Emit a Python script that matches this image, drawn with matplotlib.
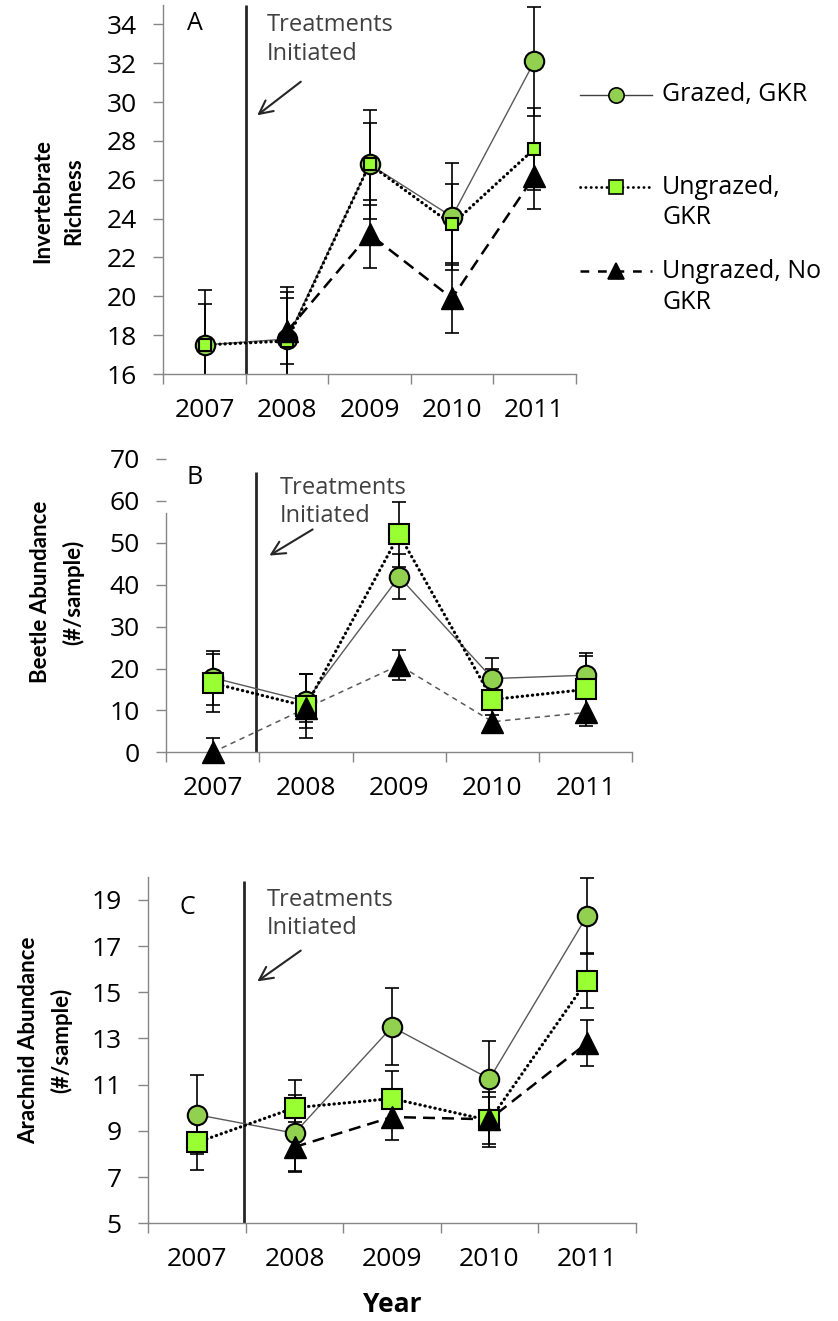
import numpy as np
import matplotlib.pyplot as plt
from matplotlib import font_manager

years = ['2007', '2008', '2009', '2010', '2011']

# A - invertebrate richness
rich_grazed = [17.5, 17.8, 26.8, 24.1, 32.1]
rich_grazed_se = [2.8, 2.7, 2.8, 2.75, 2.8]
rich_ungr_gkr = [17.5, 17.7, 26.8, 23.7, 27.6]
rich_ungr_gkr_se = [2.1, 2.5, 2.1, 2.1, 2.1]
rich_ungr_nogkr = [np.nan, 18.2, 23.2, 19.9, 26.2]
rich_ungr_nogkr_se = [np.nan, 1.7, 1.75, 1.8, 1.7]

# B - beetle abundance (#/sample)
beetle_grazed = [17.8, 12.2, 41.9, 17.6, 18.4]
beetle_grazed_se = [6.4, 6.4, 5.4, 5.0, 5.2]
beetle_ungr_gkr = [16.5, 11.0, 52.0, 12.6, 15.0]
beetle_ungr_gkr_se = [7.0, 7.6, 7.7, 7.4, 8.0]
beetle_ungr_nogkr = [0.0, 10.5, 20.8, 7.3, 9.5]
beetle_ungr_nogkr_se = [3.3, 3.3, 3.5, 1.5, 3.2]

# C - arachnid abundance (#/sample)
arach_grazed = [9.7, 8.9, 13.5, 11.25, 18.3]
arach_grazed_se = [1.7, 1.65, 1.67, 1.65, 1.65]
arach_ungr_gkr = [8.5, 10.0, 10.4, 9.45, 15.5]
arach_ungr_gkr_se = [1.2, 1.2, 1.2, 1.0, 1.2]
arach_ungr_nogkr = [np.nan, 8.3, 9.6, 9.5, 12.8]
arach_ungr_nogkr_se = [np.nan, 1.1, 1.0, 1.2, 1.0]

legend_labels = ['Grazed, GKR', 'Ungrazed,\nGKR', 'Ungrazed, No\nGKR']

W, H = 838, 1321
plt.rcParams['font.family'] = ['Open Sans', 'DejaVu Sans']

names = {f.name for f in font_manager.fontManager.ttflist}
if 'Liberation Sans Narrow' in names:
    lab_font, lab_size = 'Liberation Sans Narrow', 19.5
else:
    lab_font, lab_size = 'Lato', 16

GREEN = '#92D050'
LIME = '#99FF33'
GRAY = '#868686'


def rect(l, t, r, b):
    return [l / W, 1 - b / H, (r - l) / W, (b - t) / H]


def fp(x, y):
    return (x / W, 1 - y / H)


fig = plt.figure(figsize=(W / 100, H / 100), dpi=100)

x = np.arange(1, 6)
dot_style = dict(color='black', lw=2.3, linestyle=(0, (0.1, 1.5)),
                 dash_capstyle='round')
dash_thick = dict(color='black', lw=1.8, linestyle=(0, (4.8, 2.8)))
dash_thin = dict(color='#595959', lw=1.1, linestyle=(0, (3.5, 3)))
solid_thin = dict(color='#595959', lw=1.0, linestyle='-')


def panel(r, data, ylim, yticks, spine_top, treat_x, treat_top,
          sq_size, tri_line, letter, letter_xy, text_xy, arrow):
    ax = fig.add_axes(rect(*r))
    (g, gse), (u, use), (n, nse) = data
    for y, e in [(g, gse), (u, use), (n, nse)]:
        ax.errorbar(x, y, yerr=e, fmt='none', ecolor='black', elinewidth=1.2,
                    capsize=5, capthick=1.2, zorder=2)
    ax.plot(x, g, zorder=3, **solid_thin)
    ax.plot(x, u, zorder=3, **dot_style)
    ax.plot(x, n, zorder=3, **tri_line)
    ax.plot(x, g, 'o', ms=14, mfc=GREEN, mec='black', mew=1.5, zorder=4,
            clip_on=False)
    ax.plot(x, u, 's', ms=sq_size, mfc=LIME, mec='black', mew=1.5, zorder=5,
            clip_on=False)
    ax.plot(x, n, '^', ms=16, mfc='black', mec='black', zorder=6,
            clip_on=False)

    ax.vlines(treat_x, ylim[0], treat_top, color='#262626', lw=2, zorder=1)

    ax.set_xlim(0.5, 5.5)
    ax.set_ylim(*ylim)
    ax.set_yticks(yticks)
    ax.set_xticks(x)
    ax.set_xticklabels(years)
    ax.set_xticks(np.arange(0.5, 6, 1), minor=True)
    ax.tick_params(axis='x', which='major', length=0, pad=17, labelsize=19)
    ax.tick_params(axis='x', which='minor', length=7, width=1, color=GRAY)
    ax.tick_params(axis='y', length=7, width=1, color=GRAY, pad=12,
                   labelsize=19)
    for s in ['top', 'right']:
        ax.spines[s].set_visible(False)
    for s in ['left', 'bottom']:
        ax.spines[s].set_color(GRAY)
        ax.spines[s].set_linewidth(1)
    ax.spines['left'].set_bounds(ylim[0], spine_top)

    fig.text(*fp(*letter_xy), letter, fontsize=18, ha='center', va='center')
    fig.text(*fp(*text_xy), 'Treatments\nInitiated', fontsize=17,
             color='#404040', ha='left', va='top', linespacing=1.25)
    fig.add_artist(plt.Annotation('', xy=fp(*arrow[1]), xytext=fp(*arrow[0]),
                                  xycoords='figure fraction',
                                  arrowprops=dict(arrowstyle='->', lw=1.5,
                                                  color='#262626',
                                                  mutation_scale=24)))
    return ax


panel((163.3, 5, 575.7, 374),
      [(rich_grazed, rich_grazed_se), (rich_ungr_gkr, rich_ungr_gkr_se),
       (rich_ungr_nogkr, rich_ungr_nogkr_se)],
      (16, 35), np.arange(16, 35, 2), 35, 1.5, 35, 9, dash_thick,
      'A', (195, 24), (267, 13), ((303, 80), (255, 117)))

panel((166, 459, 632.3, 752.3),
      [(beetle_grazed, beetle_grazed_se), (beetle_ungr_gkr, beetle_ungr_gkr_se),
       (beetle_ungr_nogkr, beetle_ungr_nogkr_se)],
      (0, 70), np.arange(0, 71, 10), 57, 1.47, 67, 14, dash_thin,
      'B', (195, 477), (280, 476), ((315, 528), (267, 557)))

panel((148.3, 876.7, 635.7, 1223.3),
      [(arach_grazed, arach_grazed_se), (arach_ungr_gkr, arach_ungr_gkr_se),
       (arach_ungr_nogkr, arach_ungr_nogkr_se)],
      (5, 20), np.arange(5, 20, 2), 20, 1.48, 19.8, 14, dash_thick,
      'C', (187, 907), (267, 888), ((303, 949), (255, 983)))

# y labels and x label
for txt, (lx, ly) in [('Invertebrate\nRichness', (58, 201)),
                      ('Beetle Abundance\n(#/sample)', (57, 592)),
                      ('Arachnid Abundance\n(#/sample)', (45, 1040))]:
    fig.text(*fp(lx, ly), txt, family=lab_font, fontsize=lab_size,
             fontweight='bold', rotation=90, ha='center', va='center',
             multialignment='center', linespacing=1.6)
fig.text(*fp(392, 1305), 'Year', fontsize=19, fontweight='bold',
         ha='center', va='center')

# legend (drawn by hand so the samples line up with the first text line)
lax = fig.add_axes(rect(575, 60, 838, 330))
lax.set_xlim(575, 838)
lax.set_ylim(330, 60)
lax.axis('off')
entry_y = [95, 187, 271]
samples = [
    (solid_thin | dict(color='#404040'), dict(marker='o', mfc=GREEN, ms=11)),
    (dict(color='black', lw=2, linestyle=(0, (0.1, 1.8)),
          dash_capstyle='round'), dict(marker='s', mfc=LIME, ms=10)),
    (dict(color='black', lw=1.8, linestyle=(0, (3.5, 3.5))),
     dict(marker='^', mfc='black', ms=12)),
]
for ey, lab, (ls, mk) in zip(entry_y, legend_labels, samples):
    lax.plot([580, 652], [ey, ey], **ls)
    lax.plot([616], [ey], mec='black', mew=1.2, linestyle='none', **mk)
    for k, line in enumerate(lab.split('\n')):
        lax.text(662, ey + 31 * k, line, fontsize=18, ha='left',
                 va='center')

fig.savefig('out.png', dpi=100)
